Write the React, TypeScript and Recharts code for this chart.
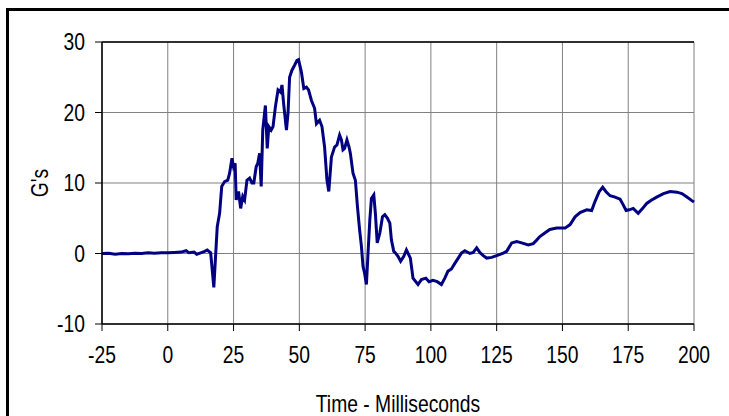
import React from "react";
import { LineChart, Line, XAxis, YAxis, CartesianGrid, ReferenceLine, Label } from "recharts";

const timeMs: number[] = [
  -25, -22.5, -20, -17.5, -15, -12.5, -10, -7.5, -5, -2.5, 0, 2.5, 5, 7, 8, 10, 11, 12.5, 14, 15, 16.3, 17.5,
  18.8, 19.7, 20.5, 21.6, 22.8, 23.5, 24.4, 25, 25.6, 26, 26.9, 27.7, 28.5, 29.2, 30.1, 31.1, 32, 32.7,
  33.6, 34.2, 34.9, 35.5, 36.1, 37.1, 37.8, 38.4, 39.3, 40, 40.9, 41.9, 42.8, 43.4, 44.1, 45.1, 45.7,
  46.3, 47.2, 48.2, 49.1, 49.7, 50.8, 51.7, 52.7, 53.5, 54.6, 55.8, 56.5, 57.7, 58.6, 59.6, 60.5, 61.2,
  62.2, 63.4, 64.3, 65.3, 66, 66.6, 67.2, 68.1, 68.9, 69.4, 70.4, 71.3, 72.1, 72.9, 73.6, 74.2, 74.8,
  75.5, 76.1, 76.8, 77.4, 78.3, 78.9, 79.6, 80.6, 81.6, 82.5, 83.5, 84.4, 85, 85.9, 86.6, 87.5, 88.5,
  89.7, 90.7, 92.2, 93.2, 95.1, 96.4, 98.1, 99.3, 100.8, 102.4, 104, 105.3, 106.5, 107.8, 109.1, 110.4,
  111.6, 112.9, 114.8, 116.1, 117.4, 118.6, 119.9, 121.2, 123.1, 125, 127.5, 128.8, 130.7, 132.6, 134.5,
  137, 138.9, 140.2, 141.4, 143.3, 145.2, 147.8, 149, 151, 152.9, 154.8, 156.7, 159.2, 161.1, 162.4, 164,
  165.3, 166.5, 168.1, 170, 171.9, 173.1, 174.2, 175.4, 176.9, 178.8, 180.5, 182, 183.9, 185.8, 188.4,
  190.9, 193.5, 195.4, 197.3, 199.2, 200,
];

const gValues: number[] = [
  0, 0.05, -0.1, 0, -0.05, 0.05, 0, 0.1, 0.05, 0.1, 0.1, 0.15, 0.2, 0.4, 0.1, 0.2, -0.1, 0.1, 0.3, 0.5, 0.1, -4.8,
  3.8, 5.7, 9.5, 10.2, 10.4, 11.4, 13.5, 12.3, 12.8, 7.6, 8.8, 6.4, 8.1, 7.6, 10.4, 10.7, 10, 10,
  12.3, 12.8, 14.2, 9.5, 17.5, 21, 14.9, 18, 17.5, 18, 20.8, 23.2, 22.9, 23.9, 21, 17.5, 19.9,
  25, 26, 26.7, 27.4, 27.5, 25.7, 23.4, 23.6, 23.2, 21.7, 20.6, 18.4, 18.9, 18, 15.1, 10.4, 8.8,
  13.7, 15.1, 15.4, 16.8, 16.1, 14.7, 14.9, 16.1, 15.1, 14.2, 11.4, 10.4, 6.6, 3.4, 1, -1.8, -2.8,
  -4.4, 0, 4.8, 7.8, 8.3, 5.7, 1.5, 2.9, 5.2, 5.5, 5, 4.3, 1.9, 0.3, 0.05, -0.4, -1.1,
  -0.4, 0.5, -0.65, -3.5, -4.4, -3.7, -3.5, -4, -3.8, -4, -4.4, -3.5, -2.5, -2.2, -1.4, -0.65,
  0.05, 0.4, 0, 0.15, 0.8, 0.15, -0.3, -0.65, -0.55, -0.3, 0.05, 0.3, 1.5, 1.7, 1.5,
  1.2, 1.4, 1.9, 2.4, 2.9, 3.4, 3.6, 3.6, 3.6, 4.1, 5.2, 5.8, 6.2, 6.1, 7.4, 8.8,
  9.4, 8.8, 8.2, 8, 7.7, 6.9, 6.1, 6.2, 6.4, 5.7, 6.4, 7.1, 7.6, 8, 8.5,
  8.8, 8.7, 8.5, 8, 7.5, 7.3,
];

const xTicks: number[] = [-25, 0, 25, 50, 75, 100, 125, 150, 175, 200];
const yTicks: number[] = [-10, 0, 10, 20, 30];

const data = timeMs.map((t, i) => ({ t, g: gValues[i] }));

const FONT = "'Liberation Sans', Arial, sans-serif";
const FS = 23;
const SX = 0.84;

const XTick = (props: any) => {
  const { x, y, payload } = props;
  return (
    <g transform={`translate(${x},${y}) scale(${SX},1)`}>
      <text x={0} y={0} dy={20} textAnchor="middle" fill="#000" fontSize={FS} fontFamily={FONT}>
        {payload.value}
      </text>
    </g>
  );
};

const YTick = (props: any) => {
  const { x, y, payload } = props;
  return (
    <g transform={`translate(${x},${y}) scale(${SX},1)`}>
      <text x={0} y={0} dy={8} textAnchor="end" fill="#000" fontSize={FS} fontFamily={FONT}>
        {payload.value}
      </text>
    </g>
  );
};

export default function App() {
  return (
    <div style={{ position: "absolute", left: 0, top: 0, width: 729, height: 416, overflow: "hidden", background: "#fff" }}>
      <div
        style={{
          position: "absolute",
          left: 6,
          top: 8,
          width: 900,
          height: 600,
          border: "3px solid #000",
        }}
      />
      <div style={{ position: "absolute", left: 0, top: 0 }}>
        <LineChart
          width={729}
          height={416}
          data={data}
          margin={{ top: 42, right: 35, left: 0, bottom: 32 }}
        >
          <CartesianGrid stroke="#808080" strokeWidth={1} />
          <XAxis
            dataKey="t"
            type="number"
            domain={[-25, 200]}
            ticks={xTicks}
            interval={0}
            height={60}
            tickSize={7}
            tickMargin={12}
            axisLine={{ stroke: "#000", strokeWidth: 1.5 }}
            tickLine={{ stroke: "#000" }}
            tick={<XTick />}
          >
            <Label
              content={(props: any) => {
                const vb = props.viewBox || { x: 102, width: 592, y: 324, height: 60 };
                const cx = vb.x + vb.width / 2;
                const cy = vb.y + vb.height + 28;
                return (
                  <g transform={`translate(${cx},${cy}) scale(${SX},1)`}>
                    <text x={0} y={0} textAnchor="middle" fill="#000" fontSize={FS} fontFamily={FONT}>
                      Time - Milliseconds
                    </text>
                  </g>
                );
              }}
            />
          </XAxis>
          <YAxis
            type="number"
            domain={[-10, 30]}
            ticks={yTicks}
            interval={0}
            width={102}
            tickSize={7}
            tickMargin={10}
            axisLine={{ stroke: "#000", strokeWidth: 1.5 }}
            tickLine={{ stroke: "#000" }}
            tick={<YTick />}
          >
            <Label
              content={(props: any) => {
                const vb = props.viewBox || { x: 0, y: 42, width: 102, height: 282 };
                const cx = 40;
                const cy = vb.y + vb.height / 2;
                return (
                  <g transform={`translate(${cx},${cy}) rotate(-90) scale(${SX},1)`}>
                    <text
                      x={0}
                      y={0}
                      textAnchor="middle"
                      dominantBaseline="central"
                      fill="#000"
                      fontSize={FS}
                      fontFamily={FONT}
                    >
                      G's
                    </text>
                  </g>
                );
              }}
            />
          </YAxis>
          <ReferenceLine y={30} stroke="#000" strokeWidth={1.5} />
          <Line
            type="linear"
            dataKey="g"
            stroke="#000080"
            strokeWidth={3}
            dot={false}
            isAnimationActive={false}
          />
        </LineChart>
      </div>
    </div>
  );
}
